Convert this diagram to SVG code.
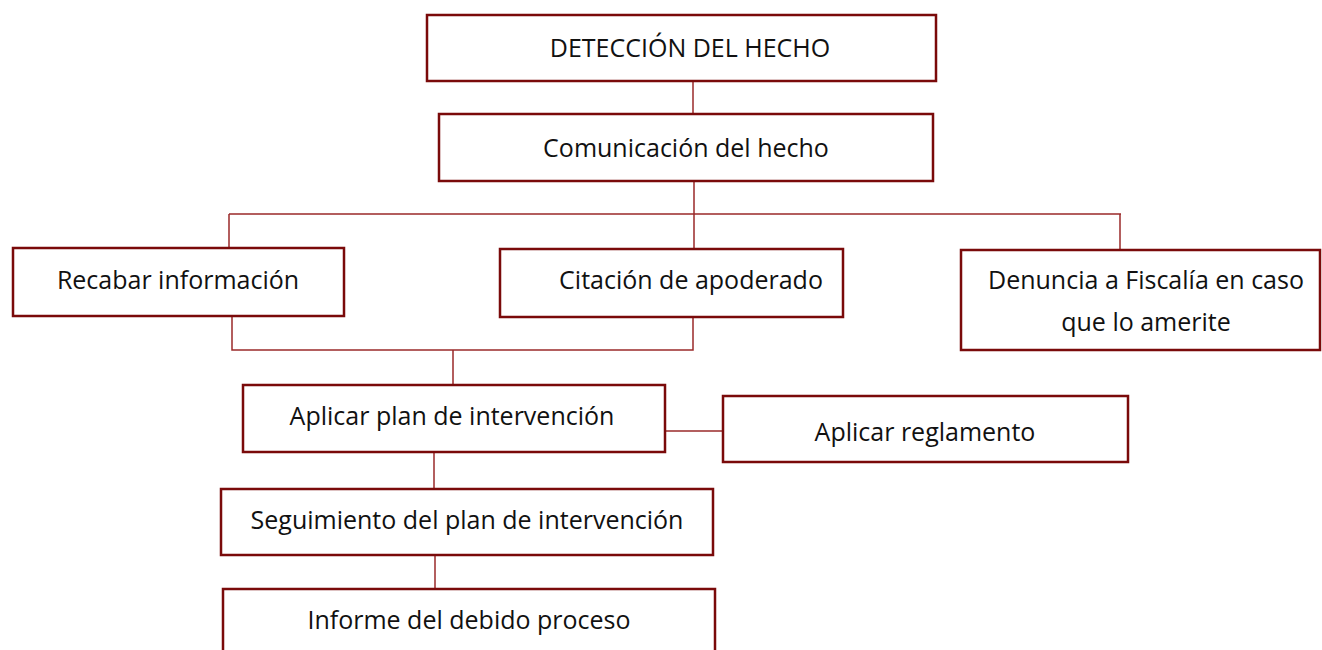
<svg xmlns="http://www.w3.org/2000/svg" width="1322" height="650" viewBox="0 0 1322 650">
<style>
.box{fill:#fff;stroke:#7a0a0a;stroke-width:2.5}
.lbl{font-family:"Open Sans","Noto Sans",sans-serif;font-size:25px;fill:#111;text-anchor:middle}
.con{fill:none;stroke:#9a2a2a;stroke-width:1.5}
</style>
<rect width="1322" height="650" fill="#fff"/>
<g id="connectors">
<path class="con" d="M693 81V114"/>
<path class="con" d="M694 181V248M229 214H1121M229 214V248M1120 214V250"/>
<path class="con" d="M232 316V350H693V317M453 350V385"/>
<path class="con" d="M665 431H723"/>
<path class="con" d="M434 452V489"/>
<path class="con" d="M435 555V589"/>
</g>
<g id="n1"><rect class="box" x="427" y="15" width="509" height="66"/><text class="lbl" x="690" y="57">DETECCIÓN DEL HECHO</text></g>
<g id="n2"><rect class="box" x="439" y="114" width="494" height="67"/><text class="lbl" x="686" y="157">Comunicación del hecho</text></g>
<g id="n3"><rect class="box" x="13" y="248" width="331" height="68"/><text class="lbl" x="178" y="289">Recabar información</text></g>
<g id="n4"><rect class="box" x="500" y="249" width="343" height="68"/><text class="lbl" x="691" y="289">Citación de apoderado</text></g>
<g id="n5"><rect class="box" x="961" y="250" width="359" height="100"/><text class="lbl" x="1146" y="289">Denuncia a Fiscalía en caso</text><text class="lbl" x="1146" y="331">que lo amerite</text></g>
<g id="n6"><rect class="box" x="243" y="385" width="422" height="67"/><text class="lbl" x="452" y="425">Aplicar plan de intervención</text></g>
<g id="n7"><rect class="box" x="723" y="396" width="405" height="66"/><text class="lbl" x="925" y="441">Aplicar reglamento</text></g>
<g id="n8"><rect class="box" x="221" y="489" width="492" height="66"/><text class="lbl" x="467" y="529">Seguimiento del plan de intervención</text></g>
<g id="n9"><rect class="box" x="223" y="589" width="492" height="70"/><text class="lbl" x="469" y="629">Informe del debido proceso</text></g>
</svg>
